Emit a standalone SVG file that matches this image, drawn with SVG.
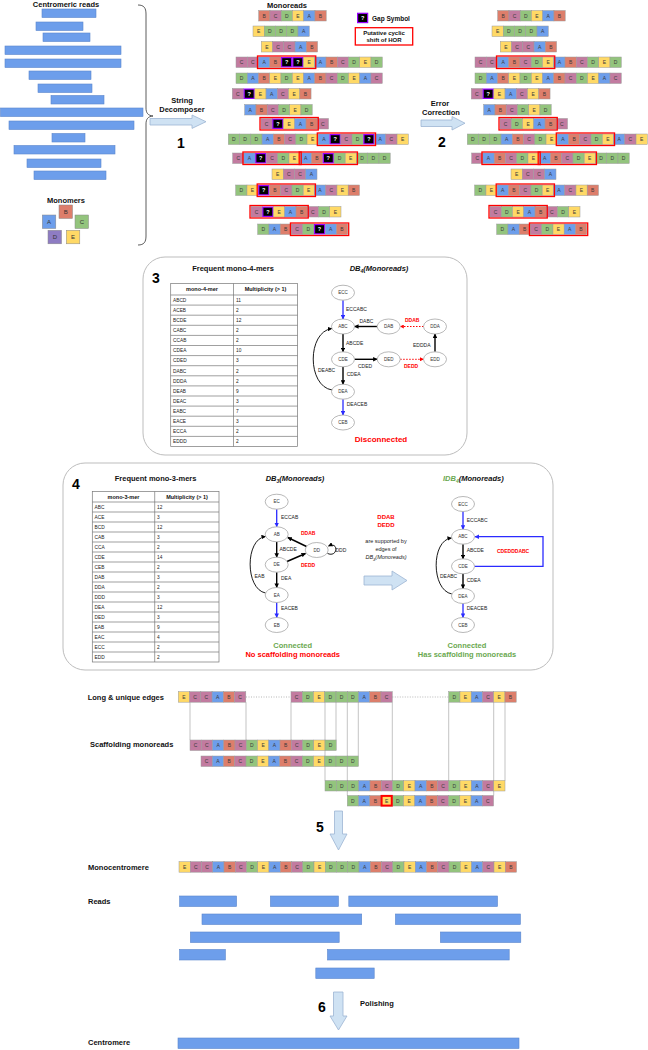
<svg xmlns="http://www.w3.org/2000/svg" width="648" height="1050" viewBox="0 0 648 1050">
<style>
text{font-family:"Liberation Sans",Arial,sans-serif;}
.cl{font-size:5px;fill:#3a3a3a;text-anchor:middle;}
.cg{font-size:5.5px;fill:#fff;text-anchor:middle;font-weight:bold}
.cs{stroke:#9a9a9a;stroke-width:0.5}
.rb{fill:none;stroke:#ff0000;stroke-width:1.3}
.read{fill:#6d9eeb;stroke:#5b86cc;stroke-width:0.6}
.h{font-weight:bold;font-size:7.5px;fill:#111}
.hc{font-weight:bold;font-size:7.5px;fill:#111;text-anchor:middle}
.num{font-weight:bold;font-size:14px;fill:#000;text-anchor:middle}
.panel{fill:#fff;stroke:#bdbdbd;stroke-width:1}
.tb{fill:#fff;stroke:#777;stroke-width:0.7}
.tl{stroke:#777;stroke-width:0.7}
.th{font-weight:bold;font-size:5.5px;text-anchor:middle;fill:#111}
.td{font-size:4.8px;fill:#222}
.node{fill:#fff;stroke:#999;stroke-width:0.7}
.nl{font-size:4.5px;text-anchor:middle;fill:#333}
.el{font-size:5px;fill:#222}
.er{font-size:5px;fill:#ff0000;font-weight:bold}
.kb{stroke:#000;stroke-width:1.4;fill:none}
.bl{stroke:#2b2bff;stroke-width:1.3;fill:none}
.rd{stroke:#ff0000;stroke-width:1;fill:none;stroke-dasharray:1.5,1.5}
.arr{fill:#cfe2f3;stroke:#9db5d3;stroke-width:0.8}
.gl{stroke:#aaa;stroke-width:0.7;fill:none}
.mono{stroke:#888;stroke-width:0.5}
.ml{font-size:6px;fill:#333;text-anchor:middle}
.gr{fill:#6aa84f}
.red{fill:#ff0000}
</style>
<defs>
<marker id="mk" viewBox="0 0 10 10" refX="9" refY="5" markerWidth="4.5" markerHeight="4.5" markerUnits="userSpaceOnUse" orient="auto"><path d="M0,0L10,5L0,10z" fill="#000"/></marker>
<marker id="mkb" viewBox="0 0 10 10" refX="9" refY="5" markerWidth="4.5" markerHeight="4.5" markerUnits="userSpaceOnUse" orient="auto"><path d="M0,0L10,5L0,10z" fill="#2b2bff"/></marker>
<marker id="mkr" viewBox="0 0 10 10" refX="9" refY="5" markerWidth="4" markerHeight="4" markerUnits="userSpaceOnUse" orient="auto"><path d="M0,0L10,5L0,10z" fill="#ff0000"/></marker>
<g id="mA"><rect class="cs" width="11.25" height="10.5" fill="#6d9eeb"/><text class="cl" x="5.6" y="7.1">A</text></g>
<g id="mB"><rect class="cs" width="11.25" height="10.5" fill="#dd7e6b"/><text class="cl" x="5.6" y="7.1">B</text></g>
<g id="mC"><rect class="cs" width="11.25" height="10.5" fill="#c27ba0"/><text class="cl" x="5.6" y="7.1">C</text></g>
<g id="mD"><rect class="cs" width="11.25" height="10.5" fill="#93c47d"/><text class="cl" x="5.6" y="7.1">D</text></g>
<g id="mE"><rect class="cs" width="11.25" height="10.5" fill="#ffd966"/><text class="cl" x="5.6" y="7.1">E</text></g>
<g id="mG"><rect x="0.6" y="0.6" width="10.05" height="9.3" fill="#000" stroke="#9900ff" stroke-width="1.2"/><text class="cg" x="5.6" y="7.2">?</text></g>
<g id="rawrows">
<g transform="translate(258.7,10.5)"><use href="#mB"/><use href="#mC" x="11.25"/><use href="#mD" x="22.5"/><use href="#mE" x="33.75"/><use href="#mA" x="45"/><use href="#mB" x="56.25"/></g>
<g transform="translate(253,26)"><use href="#mE"/><use href="#mD" x="11.25"/><use href="#mD" x="22.5"/><use href="#mD" x="33.75"/><use href="#mA" x="45"/></g>
<g transform="translate(261.3,41.5)"><use href="#mE"/><use href="#mC" x="11.25"/><use href="#mC" x="22.5"/><use href="#mA" x="33.75"/><use href="#mB" x="45"/></g>
<g transform="translate(236,73)"><use href="#mD"/><use href="#mA" x="11.25"/><use href="#mB" x="22.5"/><use href="#mE" x="33.75"/><use href="#mD" x="45"/><use href="#mE" x="56.25"/><use href="#mA" x="67.5"/><use href="#mB" x="78.75"/><use href="#mC" x="90"/><use href="#mD" x="101.25"/><use href="#mE" x="112.5"/><use href="#mA" x="123.75"/><use href="#mC" x="135"/></g>
<g transform="translate(232.3,88.5)"><use href="#mC"/><use href="#mG" x="11.25"/><use href="#mE" x="22.5"/><use href="#mA" x="33.75"/><use href="#mC" x="45"/><use href="#mE" x="56.25"/><use href="#mB" x="67.5"/></g>
<g transform="translate(244.7,104.5)"><use href="#mA"/><use href="#mB" x="11.25"/><use href="#mC" x="22.5"/><use href="#mD" x="33.75"/><use href="#mE" x="45"/><use href="#mD" x="56.25"/></g>
<g transform="translate(272,169)"><use href="#mE"/><use href="#mC" x="11.25"/><use href="#mC" x="22.5"/><use href="#mA" x="33.75"/></g>
</g>
</defs>

<g id="centromeric-reads">
<text class="hc" x="66" y="7">Centromeric reads</text>
<rect class="read" x="42" y="9" width="54" height="8.5"/>
<rect class="read" x="36" y="22" width="47" height="8.5"/>
<rect class="read" x="43" y="33" width="47" height="8.5"/>
<rect class="read" x="5" y="46" width="116" height="8.5"/>
<rect class="read" x="5" y="59" width="116" height="8.5"/>
<rect class="read" x="29" y="71" width="62" height="8.5"/>
<rect class="read" x="38" y="84" width="54" height="8.5"/>
<rect class="read" x="51" y="95.5" width="53" height="8.5"/>
<rect class="read" x="0.5" y="108" width="142.5" height="8.5"/>
<rect class="read" x="9" y="121" width="125" height="8.5"/>
<rect class="read" x="52" y="133.5" width="33" height="8.5"/>
<rect class="read" x="14" y="145.5" width="101" height="8.5"/>
<rect class="read" x="27" y="159" width="74" height="8.5"/>
<rect class="read" x="34" y="171" width="72" height="8.5"/>
</g>

<g id="monomers">
<text class="hc" x="66" y="203">Monomers</text>
<rect class="mono" x="59" y="205" width="13.5" height="13.5" fill="#dd7e6b"/><text class="ml" x="65.8" y="214">B</text>
<rect class="mono" x="42.3" y="215" width="13.5" height="13.5" fill="#6d9eeb"/><text class="ml" x="49" y="224">A</text>
<rect class="mono" x="75" y="215" width="13.5" height="13.5" fill="#93c47d"/><text class="ml" x="81.8" y="224">C</text>
<rect class="mono" x="48" y="230.3" width="13.5" height="13.5" fill="#8e7cc3"/><text class="ml" x="54.8" y="239.3">D</text>
<rect class="mono" x="66.3" y="230.3" width="13.5" height="13.5" fill="#ffd966"/><text class="ml" x="73" y="239.3">E</text>
</g>

<path id="brace" d="M138,5 C144,5 146,8 146,14 L146,108 C146,113 148,115.5 153,116 C148,116.5 146,119 146,124 L146,236 C146,242 144,245 138,245" fill="none" stroke="#333" stroke-width="0.8"/>

<g id="step1">
<text class="hc" x="182" y="102.5">String</text>
<text class="hc" x="182" y="111.5">Decomposer</text>
<path class="arr" d="M150,118.5 H192 V115 L206,121.7 L192,128.4 V125 H150 Z"/>
<text class="num" x="181" y="147.5">1</text>
</g>

<g id="monoreads">
<text class="hc" x="287" y="8">Monoreads</text>
<use href="#rawrows"/>
<g transform="translate(236,57)"><use href="#mC"/><use href="#mC" x="11.25"/><use href="#mA" x="22.5"/><use href="#mB" x="33.75"/><use href="#mG" x="45"/><use href="#mG" x="56.25"/><use href="#mE" x="67.5"/><use href="#mA" x="78.75"/><use href="#mB" x="90"/><use href="#mC" x="101.25"/><use href="#mD" x="112.5"/><use href="#mE" x="123.75"/><use href="#mD" x="135"/><rect class="rb" x="21.5" y="-1" width="58.25" height="12.5"/></g>
<g transform="translate(261,118.5)"><use href="#mC"/><use href="#mG" x="11.25"/><use href="#mE" x="22.5"/><use href="#mA" x="33.75"/><use href="#mB" x="45"/><use href="#mC" x="56.25"/><rect class="rb" x="-1" y="-1" width="58.25" height="12.5"/></g>
<g transform="translate(228.3,134)"><use href="#mD"/><use href="#mD" x="11.25"/><use href="#mD" x="22.5"/><use href="#mA" x="33.75"/><use href="#mB" x="45"/><use href="#mC" x="56.25"/><use href="#mD" x="67.5"/><use href="#mE" x="78.75"/><use href="#mA" x="90"/><use href="#mG" x="101.25"/><use href="#mC" x="112.5"/><use href="#mD" x="123.75"/><use href="#mG" x="135"/><use href="#mA" x="146.25"/><use href="#mC" x="157.5"/><use href="#mE" x="168.75"/><rect class="rb" x="89" y="-1" width="58.25" height="12.5"/></g>
<g transform="translate(232.7,153)"><use href="#mC"/><use href="#mA" x="11.25"/><use href="#mG" x="22.5"/><use href="#mC" x="33.75"/><use href="#mD" x="45"/><use href="#mE" x="56.25"/><use href="#mA" x="67.5"/><use href="#mB" x="78.75"/><use href="#mG" x="90"/><use href="#mD" x="101.25"/><use href="#mE" x="112.5"/><use href="#mD" x="123.75"/><use href="#mD" x="135"/><use href="#mD" x="146.25"/><rect class="rb" x="10.25" y="-1" width="58.25" height="12.5"/><rect class="rb" x="66.5" y="-1" width="58.25" height="12.5"/></g>
<g transform="translate(235.7,185)"><use href="#mD"/><use href="#mE" x="11.25"/><use href="#mG" x="22.5"/><use href="#mB" x="33.75"/><use href="#mC" x="45"/><use href="#mD" x="56.25"/><use href="#mE" x="67.5"/><use href="#mA" x="78.75"/><use href="#mC" x="90"/><use href="#mE" x="101.25"/><use href="#mB" x="112.5"/><rect class="rb" x="21.5" y="-1" width="58.25" height="12.5"/></g>
<g transform="translate(251,206.5)"><use href="#mC"/><use href="#mG" x="11.25"/><use href="#mE" x="22.5"/><use href="#mA" x="33.75"/><use href="#mB" x="45"/><use href="#mC" x="56.25"/><use href="#mD" x="67.5"/><use href="#mE" x="78.75"/><rect class="rb" x="-1" y="-1" width="58.25" height="12.5"/></g>
<g transform="translate(257.7,224)"><use href="#mD"/><use href="#mA" x="11.25"/><use href="#mB" x="22.5"/><use href="#mC" x="33.75"/><use href="#mD" x="45"/><use href="#mG" x="56.25"/><use href="#mA" x="67.5"/><use href="#mB" x="78.75"/><rect class="rb" x="32.75" y="-1" width="58.25" height="12.5"/></g>
</g>

<g id="legend">
<use href="#mG" x="357" y="12.7"/>
<text class="h" x="372" y="21" style="font-size:6.5px">Gap Symbol</text>
<rect class="rb" x="355.3" y="27.7" width="57.4" height="17.3"/>
<text class="th" x="384" y="35" style="font-size:6px">Putative cyclic</text>
<text class="th" x="384" y="42.3" style="font-size:6px">shift of HOR</text>
</g>

<g id="step2">
<text class="hc" x="440" y="105.5">Error</text>
<text class="hc" x="441" y="115">Correction</text>
<path class="arr" d="M421,120 H452 V116.5 L465,123.2 L452,130 V126.5 H421 Z"/>
<text class="num" x="442" y="146.5">2</text>
</g>

<g id="corrected-monoreads" transform="translate(239,0)">
<use href="#rawrows"/>
<g transform="translate(236,57)"><use href="#mC"/><use href="#mC" x="11.25"/><use href="#mA" x="22.5"/><use href="#mB" x="33.75"/><use href="#mC" x="45"/><use href="#mD" x="56.25"/><use href="#mE" x="67.5"/><use href="#mA" x="78.75"/><use href="#mB" x="90"/><use href="#mC" x="101.25"/><use href="#mD" x="112.5"/><use href="#mE" x="123.75"/><use href="#mD" x="135"/><rect class="rb" x="21.5" y="-1" width="58.25" height="12.5"/></g>
<g transform="translate(261,118.5)"><use href="#mC"/><use href="#mD" x="11.25"/><use href="#mE" x="22.5"/><use href="#mA" x="33.75"/><use href="#mB" x="45"/><use href="#mC" x="56.25"/><rect class="rb" x="-1" y="-1" width="58.25" height="12.5"/></g>
<g transform="translate(228.3,134)"><use href="#mD"/><use href="#mD" x="11.25"/><use href="#mD" x="22.5"/><use href="#mA" x="33.75"/><use href="#mB" x="45"/><use href="#mC" x="56.25"/><use href="#mD" x="67.5"/><use href="#mE" x="78.75"/><use href="#mA" x="90"/><use href="#mB" x="101.25"/><use href="#mC" x="112.5"/><use href="#mD" x="123.75"/><use href="#mE" x="135"/><use href="#mA" x="146.25"/><use href="#mC" x="157.5"/><use href="#mE" x="168.75"/><rect class="rb" x="89" y="-1" width="58.25" height="12.5"/></g>
<g transform="translate(232.7,153)"><use href="#mC"/><use href="#mA" x="11.25"/><use href="#mB" x="22.5"/><use href="#mC" x="33.75"/><use href="#mD" x="45"/><use href="#mE" x="56.25"/><use href="#mA" x="67.5"/><use href="#mB" x="78.75"/><use href="#mC" x="90"/><use href="#mD" x="101.25"/><use href="#mE" x="112.5"/><use href="#mD" x="123.75"/><use href="#mD" x="135"/><use href="#mD" x="146.25"/><rect class="rb" x="10.25" y="-1" width="58.25" height="12.5"/><rect class="rb" x="66.5" y="-1" width="58.25" height="12.5"/></g>
<g transform="translate(235.7,185)"><use href="#mD"/><use href="#mE" x="11.25"/><use href="#mA" x="22.5"/><use href="#mB" x="33.75"/><use href="#mC" x="45"/><use href="#mD" x="56.25"/><use href="#mE" x="67.5"/><use href="#mA" x="78.75"/><use href="#mC" x="90"/><use href="#mE" x="101.25"/><use href="#mB" x="112.5"/><rect class="rb" x="21.5" y="-1" width="58.25" height="12.5"/></g>
<g transform="translate(251,206.5)"><use href="#mC"/><use href="#mD" x="11.25"/><use href="#mE" x="22.5"/><use href="#mA" x="33.75"/><use href="#mB" x="45"/><use href="#mC" x="56.25"/><use href="#mD" x="67.5"/><use href="#mE" x="78.75"/><rect class="rb" x="-1" y="-1" width="58.25" height="12.5"/></g>
<g transform="translate(257.7,224)"><use href="#mD"/><use href="#mA" x="11.25"/><use href="#mB" x="22.5"/><use href="#mC" x="33.75"/><use href="#mD" x="45"/><use href="#mE" x="56.25"/><use href="#mA" x="67.5"/><use href="#mB" x="78.75"/><rect class="rb" x="32.75" y="-1" width="58.25" height="12.5"/></g>
</g>

<!-- Panel 3 -->
<g id="panel3">
<rect class="panel" x="143" y="257" width="324" height="198" rx="22"/>
<text class="num" x="156" y="283">3</text>
<text class="hc" x="233" y="271">Frequent mono-4-mers</text>
<text class="hc" x="379" y="271" font-style="italic">DB<tspan font-size="5" dy="2">4</tspan><tspan dy="-2">(Monoreads)</tspan></text>
<g id="table4">
<rect class="tb" x="170.7" y="283.5" width="126.8" height="163"/>
<path class="tl" d="M233.5,283.5V446.5 M170.7,295H297.5 M170.7,305.1H297.5 M170.7,315.2H297.5 M170.7,325.3H297.5 M170.7,335.4H297.5 M170.7,345.5H297.5 M170.7,355.6H297.5 M170.7,365.7H297.5 M170.7,375.8H297.5 M170.7,385.9H297.5 M170.7,396H297.5 M170.7,406.1H297.5 M170.7,416.2H297.5 M170.7,426.3H297.5 M170.7,436.4H297.5"/>
<text class="th" x="202" y="291.3">mono-4-mer</text><text class="th" x="265.5" y="291.3">Multiplicity (&gt; 1)</text>
<text class="td" x="173" y="301.8">ABCD</text><text class="td" x="236" y="301.8">11</text>
<text class="td" x="173" y="311.9">ACEB</text><text class="td" x="236" y="311.9">2</text>
<text class="td" x="173" y="322">BCDE</text><text class="td" x="236" y="322">12</text>
<text class="td" x="173" y="332.1">CABC</text><text class="td" x="236" y="332.1">2</text>
<text class="td" x="173" y="342.2">CCAB</text><text class="td" x="236" y="342.2">2</text>
<text class="td" x="173" y="352.3">CDEA</text><text class="td" x="236" y="352.3">10</text>
<text class="td" x="173" y="362.4">CDED</text><text class="td" x="236" y="362.4">3</text>
<text class="td" x="173" y="372.5">DABC</text><text class="td" x="236" y="372.5">2</text>
<text class="td" x="173" y="382.6">DDDA</text><text class="td" x="236" y="382.6">2</text>
<text class="td" x="173" y="392.7">DEAB</text><text class="td" x="236" y="392.7">9</text>
<text class="td" x="173" y="402.8">DEAC</text><text class="td" x="236" y="402.8">3</text>
<text class="td" x="173" y="412.9">EABC</text><text class="td" x="236" y="412.9">7</text>
<text class="td" x="173" y="423">EACE</text><text class="td" x="236" y="423">3</text>
<text class="td" x="173" y="433.1">ECCA</text><text class="td" x="236" y="433.1">2</text>
<text class="td" x="173" y="443.2">EDDD</text><text class="td" x="236" y="443.2">2</text>
</g>
<g id="db4-connectors">
<line class="bl" x1="343" y1="300.2" x2="343" y2="319" marker-end="url(#mkb)"/>
<line class="kb" x1="343" y1="334" x2="343" y2="351.8" marker-end="url(#mk)"/>
<line class="kb" x1="343" y1="366.8" x2="343" y2="384.2" marker-end="url(#mk)"/>
<line class="bl" x1="343" y1="399.2" x2="343" y2="415" marker-end="url(#mkb)"/>
<line class="kb" x1="377.2" y1="326.5" x2="354.5" y2="326.5" marker-end="url(#mk)"/>
<line class="rd" x1="423.5" y1="326.5" x2="400.2" y2="326.5" marker-end="url(#mkr)"/>
<line class="kb" x1="435" y1="351.8" x2="435" y2="334" marker-end="url(#mk)"/>
<line class="kb" x1="354.5" y1="359.3" x2="377.2" y2="359.3" marker-end="url(#mk)"/>
<line class="rd" x1="400.2" y1="359.3" x2="423.5" y2="359.3" marker-end="url(#mkr)"/>
<path class="kb" d="M332,390 C307,386 307,332 331.8,328.5" marker-end="url(#mk)" style="stroke-width:0.9"/>
<text class="el" x="346" y="311">ECCABC</text>
<text class="el" x="359.5" y="323">DABC</text>
<text class="er" x="405" y="322">DDAB</text>
<text class="el" x="413" y="346.5">EDDDA</text>
<text class="el" x="346" y="344.5">ABCDE</text>
<text class="el" x="358" y="367.5">CDED</text>
<text class="er" x="404" y="367.5">DEDD</text>
<text class="el" x="318" y="371.7">DEABC</text>
<text class="el" x="346.7" y="375.7">CDEA</text>
<text class="el" x="346.7" y="406">DEACEB</text>
</g>
<g id="n3-ECC"><ellipse class="node" cx="343" cy="292.7" rx="11.5" ry="7.5"/><text class="nl" x="343" y="294.3">ECC</text></g>
<g id="n3-ABC"><ellipse class="node" cx="343" cy="326.5" rx="11.5" ry="7.5"/><text class="nl" x="343" y="328.1">ABC</text></g>
<g id="n3-DAB"><ellipse class="node" cx="388.7" cy="326.5" rx="11.5" ry="7.5"/><text class="nl" x="388.7" y="328.1">DAB</text></g>
<g id="n3-DDA"><ellipse class="node" cx="435" cy="326.5" rx="11.5" ry="7.5"/><text class="nl" x="435" y="328.1">DDA</text></g>
<g id="n3-CDE"><ellipse class="node" cx="343" cy="359.3" rx="11.5" ry="7.5"/><text class="nl" x="343" y="360.9">CDE</text></g>
<g id="n3-DED"><ellipse class="node" cx="388.7" cy="359.3" rx="11.5" ry="7.5"/><text class="nl" x="388.7" y="360.9">DED</text></g>
<g id="n3-EDD"><ellipse class="node" cx="435" cy="359.3" rx="11.5" ry="7.5"/><text class="nl" x="435" y="360.9">EDD</text></g>
<g id="n3-DEA"><ellipse class="node" cx="343" cy="391.7" rx="11.5" ry="7.5"/><text class="nl" x="343" y="393.3">DEA</text></g>
<g id="n3-CEB"><ellipse class="node" cx="343" cy="422.5" rx="11.5" ry="7.5"/><text class="nl" x="343" y="424.1">CEB</text></g>
<text class="hc red" x="381" y="442" style="font-size:8px">Disconnected</text>
</g>

<!-- Panel 4 -->
<g id="panel4">
<rect class="panel" x="63" y="463" width="490" height="207" rx="22"/>
<text class="num" x="76" y="489">4</text>
<text class="hc" x="155.6" y="480.5">Frequent mono-3-mers</text>
<g id="table3">
<rect class="tb" x="92.3" y="491.5" width="126.7" height="170.5"/>
<path class="tl" d="M154.7,491.5V662 M92.3,502H219 M92.3,512H219 M92.3,522H219 M92.3,532H219 M92.3,542H219 M92.3,552H219 M92.3,562H219 M92.3,572H219 M92.3,582H219 M92.3,592H219 M92.3,602H219 M92.3,612H219 M92.3,622H219 M92.3,632H219 M92.3,642H219 M92.3,652H219"/>
<text class="th" x="123.5" y="498.8">mono-3-mer</text><text class="th" x="187" y="498.8">Multiplicity (&gt; 1)</text>
<text class="td" x="94.5" y="508.7">ABC</text><text class="td" x="157" y="508.7">12</text>
<text class="td" x="94.5" y="518.7">ACE</text><text class="td" x="157" y="518.7">3</text>
<text class="td" x="94.5" y="528.7">BCD</text><text class="td" x="157" y="528.7">12</text>
<text class="td" x="94.5" y="538.7">CAB</text><text class="td" x="157" y="538.7">3</text>
<text class="td" x="94.5" y="548.7">CCA</text><text class="td" x="157" y="548.7">2</text>
<text class="td" x="94.5" y="558.7">CDE</text><text class="td" x="157" y="558.7">14</text>
<text class="td" x="94.5" y="568.7">CEB</text><text class="td" x="157" y="568.7">2</text>
<text class="td" x="94.5" y="578.7">DAB</text><text class="td" x="157" y="578.7">3</text>
<text class="td" x="94.5" y="588.7">DDA</text><text class="td" x="157" y="588.7">2</text>
<text class="td" x="94.5" y="598.7">DDD</text><text class="td" x="157" y="598.7">3</text>
<text class="td" x="94.5" y="608.7">DEA</text><text class="td" x="157" y="608.7">12</text>
<text class="td" x="94.5" y="618.7">DED</text><text class="td" x="157" y="618.7">3</text>
<text class="td" x="94.5" y="628.7">EAB</text><text class="td" x="157" y="628.7">9</text>
<text class="td" x="94.5" y="638.7">EAC</text><text class="td" x="157" y="638.7">4</text>
<text class="td" x="94.5" y="648.7">ECC</text><text class="td" x="157" y="648.7">2</text>
<text class="td" x="94.5" y="658.7">EDD</text><text class="td" x="157" y="658.7">2</text>
</g>
<text class="hc" x="295" y="480.5" font-style="italic">DB<tspan font-size="5" dy="2">3</tspan><tspan dy="-2">(Monoreads)</tspan></text>
<g id="db3-connectors">
<line class="bl" x1="276.7" y1="509.2" x2="276.7" y2="526.8" marker-end="url(#mkb)"/>
<line class="kb" x1="276.7" y1="541.8" x2="276.7" y2="557.2" marker-end="url(#mk)"/>
<line class="kb" x1="276.7" y1="572.2" x2="276.7" y2="587.5" marker-end="url(#mk)"/>
<line class="bl" x1="276.7" y1="602.5" x2="276.7" y2="617.5" marker-end="url(#mkb)"/>
<line class="kb" x1="306.5" y1="546.5" x2="287.8" y2="537.5" marker-end="url(#mk)"/>
<line class="kb" x1="287" y1="561.5" x2="305.5" y2="553.5" marker-end="url(#mk)"/>
<path class="kb" d="M327.5,553.5 C338,558 339,541 328.5,546" marker-end="url(#mk)" style="stroke-width:0.9"/>
<path class="kb" d="M265.5,593 C245,589 245,539 265.5,536.5" marker-end="url(#mk)" style="stroke-width:0.9"/>
<text class="el" x="281" y="518.7">ECCAB</text>
<text class="el" x="279.5" y="550.7">ABCDE</text>
<text class="er" x="301" y="535.4">DDAB</text>
<text class="er" x="301" y="567.4">DEDD</text>
<text class="el" x="335.5" y="551.7">DDD</text>
<text class="el" x="281" y="579.7">DEA</text>
<text class="el" x="254.5" y="577.7">EAB</text>
<text class="el" x="281" y="609.7">EACEB</text>
</g>
<g id="n4-EC"><ellipse class="node" cx="276.7" cy="501.7" rx="11.5" ry="7.5"/><text class="nl" x="276.7" y="503.3">EC</text></g>
<g id="n4-AB"><ellipse class="node" cx="276.7" cy="534.3" rx="11.5" ry="7.5"/><text class="nl" x="276.7" y="535.9">AB</text></g>
<g id="n4-DD"><ellipse class="node" cx="316.7" cy="550" rx="11.5" ry="7.5"/><text class="nl" x="316.7" y="551.6">DD</text></g>
<g id="n4-DE"><ellipse class="node" cx="276.7" cy="564.7" rx="11.5" ry="7.5"/><text class="nl" x="276.7" y="566.3">DE</text></g>
<g id="n4-EA"><ellipse class="node" cx="276.7" cy="595" rx="11.5" ry="7.5"/><text class="nl" x="276.7" y="596.6">EA</text></g>
<g id="n4-EB"><ellipse class="node" cx="276.7" cy="625" rx="11.5" ry="7.5"/><text class="nl" x="276.7" y="626.6">EB</text></g>
<text class="hc gr" x="292.7" y="647.7">Connected</text>
<text class="hc red" x="292.7" y="656.7">No scaffolding monoreads</text>

<g id="support-note">
<text class="th red" x="386" y="518.5" style="font-size:6px">DDAB</text>
<text class="th red" x="386" y="526.5" style="font-size:6px">DEDD</text>
<text x="386" y="543" style="font-size:5.5px;text-anchor:middle;fill:#222">are supported by</text>
<text x="386" y="551" style="font-size:5.5px;text-anchor:middle;fill:#222">edges of</text>
<text x="386" y="559" style="font-size:5.5px;text-anchor:middle;fill:#222;font-style:italic">DB<tspan font-size="4" dy="1.5">3</tspan><tspan dy="-1.5">(Monoreads)</tspan></text>
<path class="arr" d="M364,576 H392 V571 L407,580.5 L392,590 V585 H364 Z"/>
</g>

<text class="h" x="443" y="480.5" font-style="italic"><tspan class="gr">IDB</tspan><tspan class="gr" font-size="5" dy="2">4</tspan><tspan dy="-2">(Monoreads)</tspan></text>
<g id="idb4-connectors">
<line class="bl" x1="463" y1="511.5" x2="463" y2="529.2" marker-end="url(#mkb)"/>
<line class="kb" x1="463" y1="544.2" x2="463" y2="558.8" marker-end="url(#mk)"/>
<line class="kb" x1="463" y1="573.8" x2="463" y2="588.5" marker-end="url(#mk)"/>
<line class="bl" x1="463" y1="603.5" x2="463" y2="617.5" marker-end="url(#mkb)"/>
<path class="kb" d="M451.8,594 C431,590 431,540 451.5,538" marker-end="url(#mk)" style="stroke-width:0.9"/>
<path class="bl" d="M474.5,566.3 H543 V536.7 H475" marker-end="url(#mkb)"/>
<text class="el" x="466.7" y="522.4">ECCABC</text>
<text class="el" x="466.7" y="552.4">ABCDE</text>
<text class="el" x="466.7" y="581.7">CDEA</text>
<text class="el" x="440" y="578.4">DEABC</text>
<text class="el" x="466.7" y="609.7">DEACEB</text>
<text class="er" x="497" y="552.7">CDEDDDABC</text>
</g>
<g id="i4-ECC"><ellipse class="node" cx="463" cy="504" rx="11.5" ry="7.5"/><text class="nl" x="463" y="505.6">ECC</text></g>
<g id="i4-ABC"><ellipse class="node" cx="463" cy="536.7" rx="11.5" ry="7.5"/><text class="nl" x="463" y="538.3">ABC</text></g>
<g id="i4-CDE"><ellipse class="node" cx="463" cy="566.3" rx="11.5" ry="7.5"/><text class="nl" x="463" y="567.9">CDE</text></g>
<g id="i4-DEA"><ellipse class="node" cx="463" cy="596" rx="11.5" ry="7.5"/><text class="nl" x="463" y="597.6">DEA</text></g>
<g id="i4-CEB"><ellipse class="node" cx="463" cy="625" rx="11.5" ry="7.5"/><text class="nl" x="463" y="626.6">CEB</text></g>
<text class="hc gr" x="467" y="647.7">Connected</text>
<text class="hc gr" x="467" y="656.7">Has scaffolding monoreads</text>
</g>

<!-- Step 5 -->
<g id="scaffold-lines">
<path class="gl" d="M190,702.2V740 M246,702.2V740 M291,702.2V740 M336,702.2V740 M325,702.2V780.5 M347.3,702.2V795.5 M358.3,702.2V756 M392.3,702.2V780.5 M448.7,702.2V780.5 M493.7,702.2V795.5 M505,702.2V780.5"/>
<path d="M246,697H291 M392.3,697H448.7" stroke="#999" stroke-width="0.7" stroke-dasharray="1,1.5"/>
</g>
<g id="long-unique-edges">
<text class="h" x="87.7" y="699.5">Long &amp; unique edges</text>
<g transform="translate(178.3,691.7)"><use href="#mE"/><use href="#mC" x="11.25"/><use href="#mC" x="22.5"/><use href="#mA" x="33.75"/><use href="#mB" x="45"/><use href="#mC" x="56.25"/></g>
<g transform="translate(291,691.7)"><use href="#mC"/><use href="#mD" x="11.25"/><use href="#mE" x="22.5"/><use href="#mD" x="33.75"/><use href="#mD" x="45"/><use href="#mD" x="56.25"/><use href="#mA" x="67.5"/><use href="#mB" x="78.75"/><use href="#mC" x="90"/></g>
<g transform="translate(448.7,691.7)"><use href="#mD"/><use href="#mE" x="11.25"/><use href="#mA" x="22.5"/><use href="#mC" x="33.75"/><use href="#mE" x="45"/><use href="#mB" x="56.25"/></g>
</g>
<g id="scaffolding-monoreads">
<text class="h" x="90" y="746.5">Scaffolding monoreads</text>
<g transform="translate(190,740)"><use href="#mC"/><use href="#mC" x="11.25"/><use href="#mA" x="22.5"/><use href="#mB" x="33.75"/><use href="#mC" x="45"/><use href="#mD" x="56.25"/><use href="#mE" x="67.5"/><use href="#mA" x="78.75"/><use href="#mB" x="90"/><use href="#mC" x="101.25"/><use href="#mD" x="112.5"/><use href="#mE" x="123.75"/><use href="#mD" x="135"/></g>
<g transform="translate(201,756)"><use href="#mC"/><use href="#mA" x="11.25"/><use href="#mB" x="22.5"/><use href="#mC" x="33.75"/><use href="#mD" x="45"/><use href="#mE" x="56.25"/><use href="#mA" x="67.5"/><use href="#mB" x="78.75"/><use href="#mC" x="90"/><use href="#mD" x="101.25"/><use href="#mE" x="112.5"/><use href="#mD" x="123.75"/><use href="#mD" x="135"/><use href="#mD" x="146.25"/></g>
<g transform="translate(325,780.5)"><use href="#mD"/><use href="#mD" x="11.25"/><use href="#mD" x="22.5"/><use href="#mA" x="33.75"/><use href="#mB" x="45"/><use href="#mC" x="56.25"/><use href="#mD" x="67.5"/><use href="#mE" x="78.75"/><use href="#mA" x="90"/><use href="#mB" x="101.25"/><use href="#mC" x="112.5"/><use href="#mD" x="123.75"/><use href="#mE" x="135"/><use href="#mA" x="146.25"/><use href="#mC" x="157.5"/><use href="#mE" x="168.75"/></g>
<g transform="translate(347.3,795.5)"><use href="#mD"/><use href="#mA" x="11.25"/><use href="#mB" x="22.5"/><use href="#mE" x="33.75"/><use href="#mD" x="45"/><use href="#mE" x="56.25"/><use href="#mA" x="67.5"/><use href="#mB" x="78.75"/><use href="#mC" x="90"/><use href="#mD" x="101.25"/><use href="#mE" x="112.5"/><use href="#mA" x="123.75"/><use href="#mC" x="135"/><rect x="34.3" y="0.4" width="10.15" height="9.7" fill="none" stroke="#ff0000" stroke-width="2"/></g>
</g>
<g id="step5">
<text class="num" x="320" y="832">5</text>
<path class="arr" d="M334.5,811 H342.5 V834 H347 L338.5,850 L330,834 H334.5 Z"/>
</g>
<g id="monocentromere">
<text class="h" x="88" y="869.5">Monocentromere</text>
<g transform="translate(179,861.7)"><use href="#mE"/><use href="#mC" x="11.25"/><use href="#mC" x="22.5"/><use href="#mA" x="33.75"/><use href="#mB" x="45"/><use href="#mC" x="56.25"/><use href="#mD" x="67.5"/><use href="#mE" x="78.75"/><use href="#mA" x="90"/><use href="#mB" x="101.25"/><use href="#mC" x="112.5"/><use href="#mD" x="123.75"/><use href="#mE" x="135"/><use href="#mD" x="146.25"/><use href="#mD" x="157.5"/><use href="#mD" x="168.75"/><use href="#mA" x="180"/><use href="#mB" x="191.25"/><use href="#mC" x="202.5"/><use href="#mD" x="213.75"/><use href="#mE" x="225"/><use href="#mA" x="236.25"/><use href="#mB" x="247.5"/><use href="#mC" x="258.75"/><use href="#mD" x="270"/><use href="#mE" x="281.25"/><use href="#mA" x="292.5"/><use href="#mC" x="303.75"/><use href="#mE" x="315"/><use href="#mB" x="326.25"/></g>
</g>
<g id="reads">
<text class="h" x="88" y="903.5">Reads</text>
<rect class="read" x="179.6" y="896" width="57" height="10.5"/>
<rect class="read" x="270.4" y="896" width="68" height="10.5"/>
<rect class="read" x="348.8" y="896" width="148.7" height="10.5"/>
<rect class="read" x="202" y="914" width="159.7" height="10.5"/>
<rect class="read" x="395.4" y="914" width="125" height="10.5"/>
<rect class="read" x="190.4" y="932" width="148.8" height="10.5"/>
<rect class="read" x="440.4" y="932" width="80.4" height="10.5"/>
<rect class="read" x="179.6" y="949.5" width="45.8" height="10.5"/>
<rect class="read" x="327.5" y="949.5" width="181.7" height="10.5"/>
<rect class="read" x="315.8" y="968" width="58.4" height="10.5"/>
</g>
<g id="step6">
<text class="num" x="322" y="1012">6</text>
<path class="arr" d="M333.5,992 H343 V1016 H347 L338.5,1030 L330,1016 H333.5 Z"/>
<text class="h" x="360" y="1005.5">Polishing</text>
</g>
<g id="centromere">
<text class="h" x="88" y="1044.5">Centromere</text>
<rect class="read" x="178" y="1038" width="341" height="10.5"/>
</g>
</svg>
